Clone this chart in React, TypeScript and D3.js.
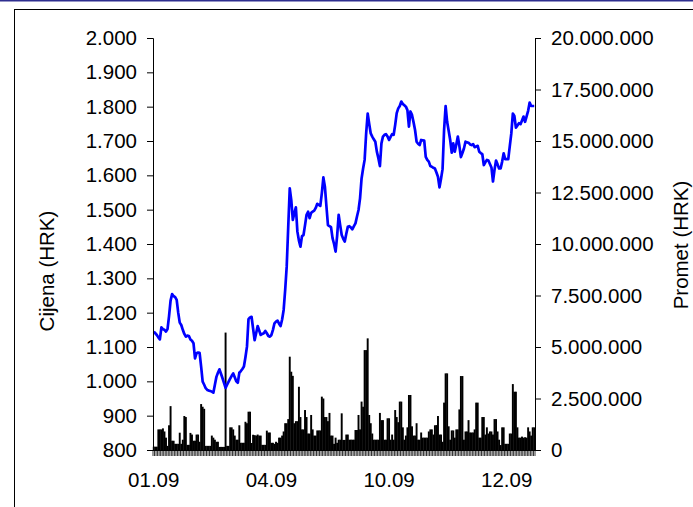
import { useEffect, useRef } from 'react'
import * as d3 from 'd3'

const W = 693, H = 507
const M = { left: 153, right: 535, top: 38, bottom: 450 }

// Cijena (HRK), one value per trading day
const price = [
  1145, 1140, 1135, 1128, 1122, 1157, 1152, 1150, 1145, 1152,
  1190, 1235, 1254, 1248, 1245, 1237, 1200, 1171, 1164, 1150,
  1138, 1130, 1133, 1132, 1122, 1118, 1111, 1067, 1082, 1084,
  1083, 1043, 999, 990, 980, 975, 973, 972, 970, 967,
  990, 1013, 1025, 1035, 1022, 1009, 995, 981, 990, 999,
  1008, 1016, 1023, 1012, 1000, 996, 1025, 1030, 1036, 1043,
  1070, 1101, 1181, 1186, 1188, 1154, 1120, 1140, 1161, 1148,
  1135, 1138, 1140, 1147, 1140, 1132, 1130, 1135, 1150, 1169,
  1174, 1177, 1168, 1161, 1180, 1208, 1266, 1334, 1450, 1562,
  1528, 1470, 1490, 1507, 1436, 1410, 1392, 1423, 1426, 1455,
  1485, 1494, 1475, 1491, 1494, 1497, 1505, 1517, 1514, 1511,
  1548, 1594, 1567, 1510, 1455, 1452, 1449, 1417, 1400, 1378,
  1423, 1485, 1455, 1426, 1415, 1407, 1430, 1450, 1452, 1448,
  1443, 1452, 1460, 1480, 1499, 1533, 1591, 1620, 1645, 1722,
  1780, 1750, 1722, 1713, 1705, 1698, 1669, 1650, 1627, 1693,
  1713, 1718, 1720, 1713, 1703, 1712, 1720, 1718, 1747, 1781,
  1795, 1802, 1815, 1808, 1804, 1800, 1790, 1742, 1786, 1776,
  1755, 1732, 1698, 1692, 1688, 1703, 1702, 1701, 1654, 1645,
  1640, 1627, 1625, 1622, 1620, 1608, 1596, 1565, 1590, 1618,
  1732, 1802, 1756, 1730, 1703, 1666, 1693, 1669, 1690, 1713,
  1686, 1653, 1665, 1678, 1698, 1696, 1695, 1690, 1688, 1691,
  1682, 1684, 1686, 1669, 1665, 1662, 1630, 1638, 1645, 1643,
  1633, 1623, 1582, 1616, 1643, 1632, 1620, 1620, 1640, 1664,
  1647, 1647, 1647, 1685, 1722, 1780, 1773, 1739, 1745, 1752,
  1749, 1760, 1771, 1756, 1772, 1788, 1812, 1802, 1802, 1802,
]

// Promet (HRK), millions
const volumeM = [
  0.16, 0.16, 0.16, 1.0, 1.0, 1.0, 1.05, 0.9, 0.6, 0.2,
  1.2, 2.13, 0.45, 0.45, 0.3, 0.3, 0.3, 0.84, 0.3, 0.5,
  1.65, 1.6, 0.25, 0.25, 0.83, 0.75, 0.45, 0.45, 0.75, 0.75,
  0.4, 2.23, 2.1, 2.0, 0.2, 0.2, 0.2, 0.2, 0.7, 0.6,
  0.5, 0.4, 0.4, 0.15, 0.15, 0.15, 0.15, 5.7, 0.2, 0.2,
  1.1, 1.1, 1.0, 0.7, 0.5, 0.5, 1.2, 0.35, 0.35, 0.35,
  1.37, 1.3, 1.86, 1.86, 0.34, 0.74, 0.72, 0.7, 0.75, 0.7,
  0.7, 0.25, 0.25, 0.25, 0.94, 0.85, 0.85, 0.35, 0.35, 0.3,
  0.4, 0.35, 0.6, 0.6, 0.7, 0.9, 1.3, 1.3, 1.5, 4.53,
  3.8, 3.6, 1.3, 1.4, 1.4, 3.07, 1.6, 1.0, 1.0, 1.94,
  1.6, 0.8, 0.8, 1.7, 1.0, 0.7, 0.7, 0.95, 0.95, 0.95,
  2.59, 2.5, 1.6, 1.6, 1.4, 1.8, 0.7, 0.7, 0.3, 0.6,
  0.35, 0.5, 0.5, 1.78, 0.49, 0.49, 0.75, 0.75, 0.5, 0.5,
  0.5, 0.5, 0.97, 0.97, 1.7, 1.0, 2.35, 2.1, 4.85, 4.85,
  5.42, 1.7, 1.3, 0.8, 0.5, 0.5, 0.5, 0.5, 1.8, 1.45,
  1.45, 0.5, 0.5, 1.54, 1.54, 0.5, 0.75, 0.5, 1.94, 1.6,
  1.35, 2.35, 2.35, 1.1, 0.5, 0.7, 1.1, 2.67, 2.67, 1.15,
  0.7, 0.7, 1.3, 0.5, 0.5, 0.85, 0.6, 0.6, 0.6, 0.6,
  0.9, 1.0, 1.0, 0.75, 1.2, 1.21, 1.65, 0.75, 0.75, 0.4,
  2.3, 3.72, 3.72, 1.15, 0.5, 0.95, 0.95, 0.6, 1.0, 1.0,
  1.97, 3.59, 3.59, 0.5, 0.9, 0.9, 1.45, 0.85, 0.85, 0.85,
  1.0, 2.3, 2.3, 0.6, 0.6, 1.6, 1.6, 0.75, 1.1, 0.8,
  0.9, 0.9, 0.75, 1.5, 1.5, 0.9, 0.5, 0.24, 1.1, 1.1,
  0.3, 0.3, 0.3, 0.8, 0.8, 3.2, 2.83, 2.83, 1.1, 0.6,
  0.6, 0.65, 0.6, 0.62, 0.6, 1.1, 0.9, 0.7, 1.1, 1.1,
]

const xTickLabels = ['01.09', '04.09', '10.09', '12.09']
const xTickAt = [0, 77, 154, 231]
const priceTicks = d3.range(800, 2001, 100)
const volumeTicks = d3.range(0, 20000001, 2500000)

const hr = d3.formatLocale({ decimal: ',', thousands: '.', grouping: [3], currency: ['', ''] })
const fmt = hr.format(',d')
const FONT = 'Liberation Sans, Arial, Helvetica, sans-serif'
const FS = '20.5px'

export default function App() {
  const svgRef = useRef<SVGSVGElement>(null)

  useEffect(() => {
    const svg = d3.select(svgRef.current)
    svg.selectAll('*').remove()

    const idx = price.map((_, i) => i)
    const x = d3.scaleBand<number>().domain(idx).range([M.left, M.right]).padding(0)
    const bw = x.bandwidth()
    const y = d3.scaleLinear([800, 2000], [M.bottom, M.top])
    const y2 = d3.scaleLinear([0, 20000000], [M.bottom, M.top])

    // top rule + frame
    svg.append('rect').attr('x', 0).attr('y', 0).attr('width', W).attr('height', 1.5).attr('fill', '#2e2e8f')
    svg.append('rect').attr('x', 14.5).attr('y', 9.5).attr('width', 700).attr('height', 520)
      .attr('fill', 'none').attr('stroke', '#000').attr('stroke-width', 1)

    // volume bars
    svg.append('g').selectAll('rect').data(volumeM).join('rect')
      .attr('x', (_, i) => x(i)! - 0.2)
      .attr('width', bw + 0.4)
      .attr('y', (d) => y2(d * 1e6))
      .attr('height', (d) => M.bottom - y2(d * 1e6))
      .attr('fill', '#000')

    // price line
    const line = d3.line<number>().x((_, i) => x(i)! + bw / 2).y((d) => y(d))
    svg.append('path').datum(price).attr('d', line)
      .attr('fill', 'none').attr('stroke', '#0000ff').attr('stroke-width', 2.7).attr('stroke-linejoin', 'round')

    const axisStyle = (g: d3.Selection<SVGGElement, unknown, null, undefined>) => {
      g.select('.domain').attr('stroke', '#000')
      g.selectAll('.tick line').attr('stroke', '#000')
      g.selectAll('.tick text').attr('fill', '#000').style('font-family', FONT).style('font-size', FS)
    }

    // left axis
    svg.append('g').attr('transform', `translate(${M.left},0)`)
      .call(d3.axisLeft(y).tickValues(priceTicks).tickFormat((d) => fmt(+d)).tickSizeOuter(0).tickSize(6).tickPadding(10))
      .call(axisStyle)

    // right axis
    svg.append('g').attr('transform', `translate(${M.right},0)`)
      .call(d3.axisRight(y2).tickValues(volumeTicks).tickFormat((d) => fmt(+d)).tickSizeOuter(0).tickSize(6).tickPadding(10))
      .call(axisStyle)

    // bottom axis: a tick between every day
    const gx = svg.append('g')
    gx.append('line').attr('x1', M.left).attr('x2', M.right).attr('y1', M.bottom + 0.5).attr('y2', M.bottom + 0.5).attr('stroke', '#000')
    gx.selectAll('line.t').data(d3.range(price.length + 1)).join('line').attr('class', 't')
      .attr('x1', (k) => M.left + k * bw).attr('x2', (k) => M.left + k * bw)
      .attr('y1', M.bottom).attr('y2', M.bottom + 6)
      .attr('stroke', '#000').attr('stroke-width', 0.8)
    gx.selectAll('text').data(xTickAt).join('text')
      .attr('x', (i) => x(i)! + bw / 2).attr('y', 487)
      .attr('text-anchor', 'middle')
      .style('font-family', FONT).style('font-size', FS)
      .text((_, j) => xTickLabels[j])

    // axis titles
    svg.append('text').attr('transform', 'translate(54,271) rotate(-90)')
      .attr('text-anchor', 'middle').style('font-family', FONT).style('font-size', FS)
      .text('Cijena (HRK)')
    svg.append('text').attr('transform', 'translate(688,245) rotate(-90)')
      .attr('text-anchor', 'middle').style('font-family', FONT).style('font-size', FS)
      .text('Promet (HRK)')
  }, [])

  return (
    <svg ref={svgRef} width={W} height={H} viewBox={`0 0 ${W} ${H}`}
      style={{ position: 'absolute', left: 0, top: 0, background: '#fff' }} />
  )
}
